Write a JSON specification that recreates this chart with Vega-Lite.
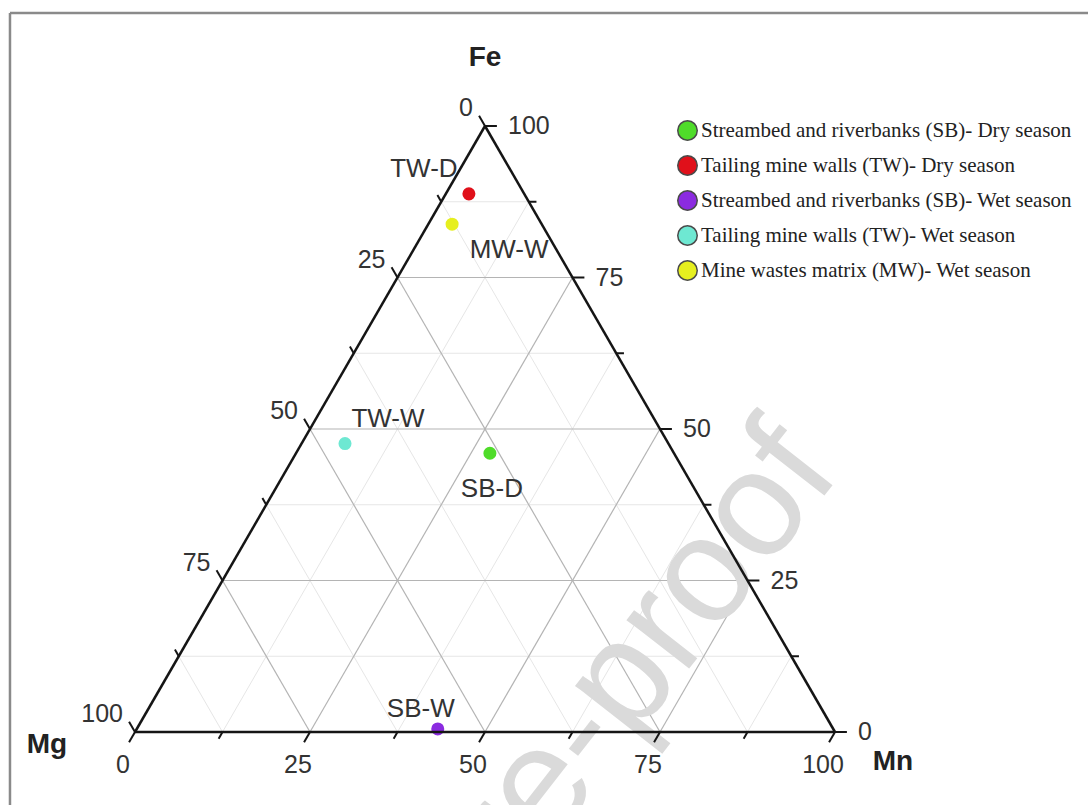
{
  "$schema": "https://vega.github.io/schema/vega-lite/v6.json",
  "autosize": "none",
  "width": 700,
  "height": 606,
  "padding": {"left": 135, "top": 126, "right": 253, "bottom": 73},
  "background": "white",
  "config": {"view": {"stroke": null}, "text": {"font": "Liberation Sans"}},
  "datasets": {
    "samples": [
      {"id": "SB-D", "series": "Streambed and riverbanks (SB)- Dry season", "Mg": 26.3, "Mn": 27.7, "Fe": 46.0},
      {"id": "TW-D", "series": "Tailing mine walls (TW)- Dry season", "Mg": 7.9, "Mn": 3.3, "Fe": 88.8},
      {"id": "SB-W", "series": "Streambed and riverbanks (SB)- Wet season", "Mg": 56.5, "Mn": 43.0, "Fe": 0.5},
      {"id": "TW-W", "series": "Tailing mine walls (TW)- Wet season", "Mg": 46.2, "Mn": 6.2, "Fe": 47.6},
      {"id": "MW-W", "series": "Mine wastes matrix (MW)- Wet season", "Mg": 12.8, "Mn": 3.4, "Fe": 83.8}
    ],
    "grid": [
      {"axis": "Fe", "v": 0, "kind": "edge"}, {"axis": "Mn", "v": 0, "kind": "edge"}, {"axis": "Mg", "v": 0, "kind": "edge"},
      {"axis": "Fe", "v": 25, "kind": "major"}, {"axis": "Fe", "v": 50, "kind": "major"}, {"axis": "Fe", "v": 75, "kind": "major"},
      {"axis": "Mn", "v": 25, "kind": "major"}, {"axis": "Mn", "v": 50, "kind": "major"}, {"axis": "Mn", "v": 75, "kind": "major"},
      {"axis": "Mg", "v": 25, "kind": "major"}, {"axis": "Mg", "v": 50, "kind": "major"}, {"axis": "Mg", "v": 75, "kind": "major"},
      {"axis": "Fe", "v": 12.5, "kind": "minor"}, {"axis": "Fe", "v": 37.5, "kind": "minor"}, {"axis": "Fe", "v": 62.5, "kind": "minor"}, {"axis": "Fe", "v": 87.5, "kind": "minor"},
      {"axis": "Mn", "v": 12.5, "kind": "minor"}, {"axis": "Mn", "v": 37.5, "kind": "minor"}, {"axis": "Mn", "v": 62.5, "kind": "minor"}, {"axis": "Mn", "v": 87.5, "kind": "minor"},
      {"axis": "Mg", "v": 12.5, "kind": "minor"}, {"axis": "Mg", "v": 37.5, "kind": "minor"}, {"axis": "Mg", "v": 62.5, "kind": "minor"}, {"axis": "Mg", "v": 87.5, "kind": "minor"}
    ],
    "ticks": [
      {"axis": "Fe", "v": 0, "major": true}, {"axis": "Fe", "v": 12.5, "major": false}, {"axis": "Fe", "v": 25, "major": true}, {"axis": "Fe", "v": 37.5, "major": false}, {"axis": "Fe", "v": 50, "major": true}, {"axis": "Fe", "v": 62.5, "major": false}, {"axis": "Fe", "v": 75, "major": true}, {"axis": "Fe", "v": 87.5, "major": false}, {"axis": "Fe", "v": 100, "major": true},
      {"axis": "Mn", "v": 0, "major": true}, {"axis": "Mn", "v": 12.5, "major": false}, {"axis": "Mn", "v": 25, "major": true}, {"axis": "Mn", "v": 37.5, "major": false}, {"axis": "Mn", "v": 50, "major": true}, {"axis": "Mn", "v": 62.5, "major": false}, {"axis": "Mn", "v": 75, "major": true}, {"axis": "Mn", "v": 87.5, "major": false}, {"axis": "Mn", "v": 100, "major": true},
      {"axis": "Mg", "v": 0, "major": true}, {"axis": "Mg", "v": 12.5, "major": false}, {"axis": "Mg", "v": 25, "major": true}, {"axis": "Mg", "v": 37.5, "major": false}, {"axis": "Mg", "v": 50, "major": true}, {"axis": "Mg", "v": 62.5, "major": false}, {"axis": "Mg", "v": 75, "major": true}, {"axis": "Mg", "v": 87.5, "major": false}, {"axis": "Mg", "v": 100, "major": true}
    ],
    "frame": [
      {"x": -17.86, "y": 102.74, "x2": 140, "y2": 102.74},
      {"x": -17.86, "y": 102.74, "x2": -17.86, "y2": -12}
    ]
  },
  "layer": [
    {
      "data": {"name": "frame"},
      "mark": {"type": "rule", "color": "#8a8a8a", "strokeWidth": 2.5},
      "encoding": {
        "x": {"field": "x", "type": "quantitative", "scale": {"domain": [0, 100], "nice": false, "zero": false}, "axis": null},
        "y": {"field": "y", "type": "quantitative", "scale": {"domain": [0, 86.60254], "nice": false, "zero": false}, "axis": null},
        "x2": {"field": "x2"},
        "y2": {"field": "y2"}
      }
    },
    {
      "data": {"name": "grid"},
      "transform": [
        {"filter": "datum.kind == 'minor'"},
        {"calculate": "datum.axis == 'Fe' ? 0 : datum.axis == 'Mn' ? datum.v : 100 - datum.v", "as": "mn1"},
        {"calculate": "datum.axis == 'Fe' ? datum.v : 0", "as": "fe1"},
        {"calculate": "datum.axis == 'Fe' ? 100 - datum.v : datum.axis == 'Mn' ? datum.v : 0", "as": "mn2"},
        {"calculate": "datum.axis == 'Fe' ? datum.v : 100 - datum.v", "as": "fe2"},
        {"calculate": "datum.mn1 + datum.fe1 / 2", "as": "x"},
        {"calculate": "datum.fe1 * 0.8660254", "as": "y"},
        {"calculate": "datum.mn2 + datum.fe2 / 2", "as": "x2"},
        {"calculate": "datum.fe2 * 0.8660254", "as": "y2"}
      ],
      "mark": {"type": "rule", "color": "#e6e6e6", "strokeWidth": 1},
      "encoding": {
        "x": {"field": "x", "type": "quantitative"},
        "y": {"field": "y", "type": "quantitative"},
        "x2": {"field": "x2"},
        "y2": {"field": "y2"}
      }
    },
    {
      "data": {"name": "grid"},
      "transform": [
        {"filter": "datum.kind == 'major'"},
        {"calculate": "datum.axis == 'Fe' ? 0 : datum.axis == 'Mn' ? datum.v : 100 - datum.v", "as": "mn1"},
        {"calculate": "datum.axis == 'Fe' ? datum.v : 0", "as": "fe1"},
        {"calculate": "datum.axis == 'Fe' ? 100 - datum.v : datum.axis == 'Mn' ? datum.v : 0", "as": "mn2"},
        {"calculate": "datum.axis == 'Fe' ? datum.v : 100 - datum.v", "as": "fe2"},
        {"calculate": "datum.mn1 + datum.fe1 / 2", "as": "x"},
        {"calculate": "datum.fe1 * 0.8660254", "as": "y"},
        {"calculate": "datum.mn2 + datum.fe2 / 2", "as": "x2"},
        {"calculate": "datum.fe2 * 0.8660254", "as": "y2"}
      ],
      "mark": {"type": "rule", "color": "#b4b4b4", "strokeWidth": 1.2},
      "encoding": {
        "x": {"field": "x", "type": "quantitative"},
        "y": {"field": "y", "type": "quantitative"},
        "x2": {"field": "x2"},
        "y2": {"field": "y2"}
      }
    },
    {
      "data": {"values": [{"t": "Journal Pre-proof", "x": 101.0, "y": 37.0}]},
      "mark": {"type": "text", "align": "right", "baseline": "alphabetic", "angle": -52, "fontSize": 150, "color": "#dadada", "font": "Liberation Sans"},
      "encoding": {
        "x": {"field": "x", "type": "quantitative"},
        "y": {"field": "y", "type": "quantitative"},
        "text": {"field": "t"}
      }
    },
    {
      "data": {"name": "samples"},
      "transform": [
        {"calculate": "datum.Mn + datum.Fe / 2", "as": "x"},
        {"calculate": "datum.Fe * 0.8660254", "as": "y"}
      ],
      "mark": {"type": "point", "filled": true, "shape": "circle", "size": 170, "opacity": 1},
      "encoding": {
        "x": {"field": "x", "type": "quantitative"},
        "y": {"field": "y", "type": "quantitative"},
        "color": {
          "field": "series",
          "type": "nominal",
          "scale": {
            "domain": ["Streambed and riverbanks (SB)- Dry season", "Tailing mine walls (TW)- Dry season", "Streambed and riverbanks (SB)- Wet season", "Tailing mine walls (TW)- Wet season", "Mine wastes matrix (MW)- Wet season"],
            "range": ["#4fdc2a", "#e0101a", "#8b2be0", "#6ee8d2", "#e6ef1f"]
          },
          "legend": {
            "orient": "none",
            "legendX": 542,
            "legendY": -6,
            "title": null,
            "padding": 0,
            "symbolType": "circle",
            "symbolSize": 380,
            "symbolStrokeColor": "#4a4a4a",
            "symbolStrokeWidth": 1.5,
            "symbolOpacity": 1,
            "labelFont": "Liberation Serif",
            "labelFontSize": 21,
            "labelColor": "#222222",
            "labelOffset": 3,
            "labelLimit": 600,
            "rowPadding": 8
          }
        }
      }
    },
    {
      "data": {"name": "grid"},
      "transform": [
        {"filter": "datum.kind == 'edge'"},
        {"calculate": "datum.axis == 'Fe' ? 0 : datum.axis == 'Mn' ? datum.v : 100 - datum.v", "as": "mn1"},
        {"calculate": "datum.axis == 'Fe' ? datum.v : 0", "as": "fe1"},
        {"calculate": "datum.axis == 'Fe' ? 100 - datum.v : datum.axis == 'Mn' ? datum.v : 0", "as": "mn2"},
        {"calculate": "datum.axis == 'Fe' ? datum.v : 100 - datum.v", "as": "fe2"},
        {"calculate": "datum.mn1 + datum.fe1 / 2", "as": "x"},
        {"calculate": "datum.fe1 * 0.8660254", "as": "y"},
        {"calculate": "datum.mn2 + datum.fe2 / 2", "as": "x2"},
        {"calculate": "datum.fe2 * 0.8660254", "as": "y2"}
      ],
      "mark": {"type": "rule", "color": "#151515", "strokeWidth": 2.5},
      "encoding": {
        "x": {"field": "x", "type": "quantitative"},
        "y": {"field": "y", "type": "quantitative"},
        "x2": {"field": "x2"},
        "y2": {"field": "y2"}
      }
    },
    {
      "data": {"name": "ticks"},
      "transform": [
        {"calculate": "datum.major ? 1.7 : 1.1", "as": "L"},
        {"calculate": "datum.axis == 'Fe' ? 100 - datum.v : datum.axis == 'Mn' ? datum.v : 0", "as": "mn1"},
        {"calculate": "datum.axis == 'Fe' ? datum.v : datum.axis == 'Mn' ? 0 : 100 - datum.v", "as": "fe1"},
        {"calculate": "datum.axis == 'Fe' ? 100 - datum.v + datum.L : datum.axis == 'Mn' ? datum.v : -datum.L", "as": "mn2"},
        {"calculate": "datum.axis == 'Fe' ? datum.v : datum.axis == 'Mn' ? -datum.L : 100 - datum.v + datum.L", "as": "fe2"},
        {"calculate": "datum.mn1 + datum.fe1 / 2", "as": "x"},
        {"calculate": "datum.fe1 * 0.8660254", "as": "y"},
        {"calculate": "datum.mn2 + datum.fe2 / 2", "as": "x2"},
        {"calculate": "datum.fe2 * 0.8660254", "as": "y2"}
      ],
      "mark": {"type": "rule", "color": "#151515", "strokeWidth": 2},
      "encoding": {
        "x": {"field": "x", "type": "quantitative"},
        "y": {"field": "y", "type": "quantitative"},
        "x2": {"field": "x2"},
        "y2": {"field": "y2"}
      }
    },
    {
      "data": {"name": "ticks"},
      "transform": [
        {"filter": "datum.major && datum.axis == 'Fe'"},
        {"calculate": "100 - datum.v + datum.v / 2", "as": "x"},
        {"calculate": "datum.v * 0.8660254", "as": "y"}
      ],
      "mark": {"type": "text", "align": "left", "baseline": "middle", "dx": 23, "fontSize": 25, "color": "#333333"},
      "encoding": {
        "x": {"field": "x", "type": "quantitative"},
        "y": {"field": "y", "type": "quantitative"},
        "text": {"field": "v", "type": "quantitative", "format": "d"}
      }
    },
    {
      "data": {"name": "ticks"},
      "transform": [
        {"filter": "datum.major && datum.axis == 'Mg'"},
        {"calculate": "(100 - datum.v) / 2", "as": "x"},
        {"calculate": "(100 - datum.v) * 0.8660254", "as": "y"}
      ],
      "mark": {"type": "text", "align": "right", "baseline": "middle", "dx": -12, "dy": -18, "fontSize": 25, "color": "#333333"},
      "encoding": {
        "x": {"field": "x", "type": "quantitative"},
        "y": {"field": "y", "type": "quantitative"},
        "text": {"field": "v", "type": "quantitative", "format": "d"}
      }
    },
    {
      "data": {"name": "ticks"},
      "transform": [
        {"filter": "datum.major && datum.axis == 'Mn'"},
        {"calculate": "datum.v", "as": "x"},
        {"calculate": "0", "as": "y"}
      ],
      "mark": {"type": "text", "align": "center", "baseline": "middle", "dx": -12, "dy": 33, "fontSize": 25, "color": "#333333"},
      "encoding": {
        "x": {"field": "x", "type": "quantitative"},
        "y": {"field": "y", "type": "quantitative"},
        "text": {"field": "v", "type": "quantitative", "format": "d"}
      }
    },
    {
      "data": {"values": [{"t": "Fe", "Mn": 0, "Fe": 100}]},
      "transform": [{"calculate": "datum.Mn + datum.Fe / 2", "as": "x"}, {"calculate": "datum.Fe * 0.8660254", "as": "y"}],
      "mark": {"type": "text", "align": "center", "baseline": "middle", "dy": -68, "fontSize": 28, "fontWeight": "bold", "color": "#222222"},
      "encoding": {"x": {"field": "x", "type": "quantitative"}, "y": {"field": "y", "type": "quantitative"}, "text": {"field": "t"}}
    },
    {
      "data": {"values": [{"t": "Mg", "Mn": 0, "Fe": 0}]},
      "transform": [{"calculate": "datum.Mn + datum.Fe / 2", "as": "x"}, {"calculate": "datum.Fe * 0.8660254", "as": "y"}],
      "mark": {"type": "text", "align": "center", "baseline": "middle", "dx": -88, "dy": 13, "fontSize": 28, "fontWeight": "bold", "color": "#222222"},
      "encoding": {"x": {"field": "x", "type": "quantitative"}, "y": {"field": "y", "type": "quantitative"}, "text": {"field": "t"}}
    },
    {
      "data": {"values": [{"t": "Mn", "Mn": 100, "Fe": 0}]},
      "transform": [{"calculate": "datum.Mn + datum.Fe / 2", "as": "x"}, {"calculate": "datum.Fe * 0.8660254", "as": "y"}],
      "mark": {"type": "text", "align": "center", "baseline": "middle", "dx": 58, "dy": 30, "fontSize": 28, "fontWeight": "bold", "color": "#222222"},
      "encoding": {"x": {"field": "x", "type": "quantitative"}, "y": {"field": "y", "type": "quantitative"}, "text": {"field": "t"}}
    },
    {
      "data": {"name": "samples"},
      "transform": [{"filter": "datum.id == 'TW-D'"}, {"calculate": "datum.Mn + datum.Fe / 2", "as": "x"}, {"calculate": "datum.Fe * 0.8660254", "as": "y"}],
      "mark": {"type": "text", "align": "center", "baseline": "middle", "dx": -45, "dy": -25, "fontSize": 26, "color": "#333333"},
      "encoding": {"x": {"field": "x", "type": "quantitative"}, "y": {"field": "y", "type": "quantitative"}, "text": {"field": "id"}}
    },
    {
      "data": {"name": "samples"},
      "transform": [{"filter": "datum.id == 'MW-W'"}, {"calculate": "datum.Mn + datum.Fe / 2", "as": "x"}, {"calculate": "datum.Fe * 0.8660254", "as": "y"}],
      "mark": {"type": "text", "align": "center", "baseline": "middle", "dx": 57, "dy": 26, "fontSize": 26, "color": "#333333"},
      "encoding": {"x": {"field": "x", "type": "quantitative"}, "y": {"field": "y", "type": "quantitative"}, "text": {"field": "id"}}
    },
    {
      "data": {"name": "samples"},
      "transform": [{"filter": "datum.id == 'TW-W'"}, {"calculate": "datum.Mn + datum.Fe / 2", "as": "x"}, {"calculate": "datum.Fe * 0.8660254", "as": "y"}],
      "mark": {"type": "text", "align": "center", "baseline": "middle", "dx": 43, "dy": -25, "fontSize": 26, "color": "#333333"},
      "encoding": {"x": {"field": "x", "type": "quantitative"}, "y": {"field": "y", "type": "quantitative"}, "text": {"field": "id"}}
    },
    {
      "data": {"name": "samples"},
      "transform": [{"filter": "datum.id == 'SB-D'"}, {"calculate": "datum.Mn + datum.Fe / 2", "as": "x"}, {"calculate": "datum.Fe * 0.8660254", "as": "y"}],
      "mark": {"type": "text", "align": "center", "baseline": "middle", "dx": 2, "dy": 36, "fontSize": 26, "color": "#333333"},
      "encoding": {"x": {"field": "x", "type": "quantitative"}, "y": {"field": "y", "type": "quantitative"}, "text": {"field": "id"}}
    },
    {
      "data": {"name": "samples"},
      "transform": [{"filter": "datum.id == 'SB-W'"}, {"calculate": "datum.Mn + datum.Fe / 2", "as": "x"}, {"calculate": "datum.Fe * 0.8660254", "as": "y"}],
      "mark": {"type": "text", "align": "center", "baseline": "middle", "dx": -17, "dy": -20, "fontSize": 26, "color": "#333333"},
      "encoding": {"x": {"field": "x", "type": "quantitative"}, "y": {"field": "y", "type": "quantitative"}, "text": {"field": "id"}}
    }
  ]
}
